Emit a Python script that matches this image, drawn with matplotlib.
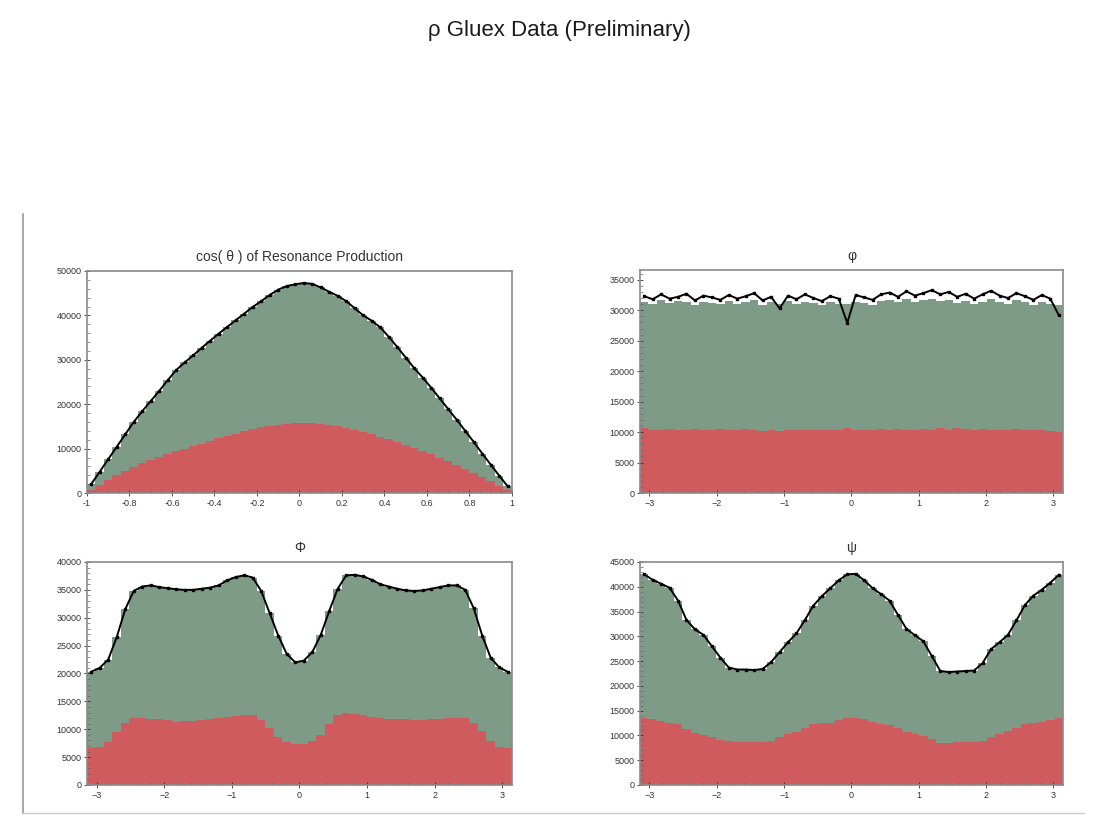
"""Rho Gluex preliminary angular distributions, four histogram panels."""
import numpy as np
import matplotlib
matplotlib.use("Agg")
import matplotlib.pyplot as plt
from matplotlib.lines import Line2D

plt.rcParams["font.family"] = ["Liberation Sans", "DejaVu Sans"]

GREEN = "#7e9b88"
RED = "#d05b5e"

# cos(theta): 50 bins on [-1, 1]
cos_total = [2000, 4800, 7600, 10400, 13200, 16000, 18400, 20700, 23000, 25400,
             27700, 29400, 31000, 32700, 34300, 35900, 37400, 38900, 40400, 41900,
             43200, 44600, 45800, 46600, 47000, 47300, 47100, 46300, 45300, 44400,
             43200, 41600, 40000, 38800, 37300, 35200, 32900, 30500, 28100, 26000,
             23700, 21300, 18900, 16500, 14000, 11500, 8900, 6400, 3900, 1500]
cos_red = [600, 1700, 2900, 4000, 5000, 5900, 6700, 7400, 8100, 8800,
           9400, 9900, 10500, 11100, 11700, 12300, 12900, 13400, 13900, 14400,
           14800, 15100, 15400, 15600, 15700, 15800, 15800, 15600, 15300, 15000,
           14700, 14300, 13800, 13300, 12700, 12100, 11500, 10800, 10100, 9400,
           8700, 7900, 7100, 6300, 5400, 4500, 3600, 2600, 1600, 600]

# phi: 50 bins on [-pi, pi]
phi_data = [32300, 31800, 32600, 31900, 32200, 32700, 31600, 32400, 32100, 31700,
            32500, 31900, 32300, 32800, 31600, 32200, 30300, 32400, 31800, 32600,
            32000, 31500, 32300, 31900, 27900, 32500, 32100, 31700, 32600, 32900,
            32200, 33100, 32400, 32800, 33300, 32600, 33000, 32200, 32700, 31900,
            32600, 33200, 32400, 32000, 32800, 32300, 31700, 32500, 31900, 29200]
phi_total = [31400, 31100, 31600, 31200, 31500, 31300, 30900, 31400, 31200, 31000,
             31500, 31100, 31300, 31700, 30900, 31300, 31000, 31500, 31100, 31400,
             31200, 30800, 31300, 31100, 31000, 31400, 31200, 30900, 31500, 31700,
             31300, 31800, 31400, 31600, 31900, 31500, 31700, 31200, 31500, 31000,
             31400, 31800, 31300, 31100, 31600, 31300, 30900, 31400, 31100, 30800]
phi_red = [10600, 10300, 10400, 10500, 10300, 10400, 10500, 10400, 10300, 10500,
           10400, 10300, 10500, 10400, 10200, 10300, 10100, 10300, 10400, 10300,
           10400, 10300, 10400, 10300, 10700, 10400, 10300, 10400, 10500, 10400,
           10500, 10400, 10300, 10500, 10400, 10600, 10400, 10700, 10500, 10400,
           10500, 10400, 10300, 10400, 10500, 10300, 10400, 10300, 10200, 10000]

# Phi: 50 bins on [-pi, pi]
Phi_total = [20300, 21000, 22500, 26500, 31500, 34800, 35600, 35800, 35500, 35300,
             35100, 35000, 35000, 35200, 35400, 35800, 36700, 37300, 37600, 37200,
             34800, 30800, 26800, 23500, 22000, 22300, 23800, 26900, 31200, 35200,
             37600, 37700, 37400, 36800, 36000, 35600, 35200, 34900, 34800, 34900,
             35200, 35500, 35800, 35800, 35000, 31700, 26800, 22800, 21100, 20300]
Phi_red = [6600, 6900, 7800, 9500, 11200, 12000, 12000, 11900, 11800, 11600,
           11300, 11400, 11500, 11700, 11800, 12000, 12200, 12400, 12600, 12500,
           11700, 10200, 8600, 7700, 7300, 7400, 7900, 9000, 11000, 12500,
           12900, 12800, 12500, 12200, 12000, 11900, 11800, 11800, 11700, 11700,
           11800, 11900, 12000, 12100, 12000, 11200, 9600, 7900, 6900, 6600]

# psi: 50 bins on [-pi, pi]
psi_total = [42500, 41400, 40600, 39800, 37200, 33300, 31400, 30300, 28000, 25700,
             23700, 23300, 23300, 23200, 23400, 24800, 26800, 28800, 30600, 33300,
             36200, 38100, 39700, 41300, 42500, 42600, 41300, 39700, 38500, 37200,
             34300, 31500, 30200, 29000, 26000, 23000, 22800, 22900, 23000, 23100,
             24600, 27400, 28800, 30300, 33200, 36300, 38200, 39400, 40800, 42400]
psi_red = [13500, 13300, 12900, 12600, 12300, 11300, 10400, 10100, 9600, 9100,
           8800, 8700, 8700, 8600, 8700, 8900, 9700, 10300, 10700, 11400,
           12300, 12500, 12600, 13200, 13500, 13500, 13400, 12700, 12400, 12200,
           11500, 10600, 10300, 9900, 9200, 8400, 8500, 8600, 8600, 8700,
           8900, 9700, 10300, 10800, 11500, 12400, 12600, 12800, 13200, 13500]

cos_ticks = [-1, -0.8, -0.6, -0.4, -0.2, 0, 0.2, 0.4, 0.6, 0.8, 1]
cos_ticklabels = ["-1", "-0.8", "-0.6", "-0.4", "-0.2", "0", "0.2", "0.4", "0.6", "0.8", "1"]
ang_ticks = [-3, -2, -1, 0, 1, 2, 3]

PANELS = [
    dict(title="cos( θ ) of Resonance Production", lo=-1, hi=1, total=cos_total,
         red=cos_red, data=cos_total, ymax=50000, ystep=10000,
         xticks=cos_ticks, xlabels=cos_ticklabels,
         rect=[0.0782, 0.3958, 0.3822, 0.2721]),
    dict(title="φ", lo=-np.pi, hi=np.pi, total=phi_total, red=phi_red,
         data=phi_data, ymax=36600, ystep=5000, xticks=ang_ticks, xlabels=None,
         rect=[0.5755, 0.3958, 0.3804, 0.2733]),
    dict(title="Φ", lo=-np.pi, hi=np.pi, total=Phi_total, red=Phi_red,
         data=Phi_total, ymax=40000, ystep=5000, xticks=ang_ticks, xlabels=None,
         rect=[0.0782, 0.0380, 0.3822, 0.2733]),
    dict(title="ψ", lo=-np.pi, hi=np.pi, total=psi_total, red=psi_red,
         data=psi_total, ymax=45000, ystep=5000, xticks=ang_ticks, xlabels=None,
         rect=[0.5755, 0.0380, 0.3804, 0.2733]),
]


def draw_panel(fig, p):
    ax = fig.add_axes(p["rect"])
    n = len(p["total"])
    edges = np.linspace(p["lo"], p["hi"], n + 1)
    centers = 0.5 * (edges[:-1] + edges[1:])
    ax.stairs(p["total"], edges, fill=True, color=GREEN, lw=0)
    ax.stairs(p["red"], edges, fill=True, color=RED, lw=0)
    ax.plot(centers, p["data"], color="black", lw=1.4, marker="s", ms=1.6,
            mec="black", mfc="black")

    ax.set_xlim(p["lo"], p["hi"])
    ax.set_ylim(0, p["ymax"])
    ax.set_xticks(p["xticks"])
    if p["xlabels"] is not None:
        ax.set_xticklabels(p["xlabels"])
    ax.set_yticks(np.arange(0, p["ymax"] + 1, p["ystep"]))
    ax.minorticks_on()
    ax.tick_params(which="major", direction="inout", length=5, width=0.6,
                   labelsize=6.5, colors="#333333", pad=1.5)
    ax.tick_params(which="minor", direction="in", length=2.5, width=0.5,
                   colors="#666666")
    for s in ax.spines.values():
        s.set_color("#8a8a8a")
        s.set_linewidth(1.2)
    ax.set_title(p["title"], fontsize=10, color="#333333", pad=7)
    return ax


def main():
    fig = plt.figure(figsize=(11.12, 8.16), dpi=100)
    fig.text(0.503, 0.963, "ρ Gluex Data (Preliminary)", ha="center", va="center",
             fontsize=16, color="#1a1a1a")
    for p in PANELS:
        draw_panel(fig, p)

    # outer frame of the embedded canvas
    fig.add_artist(Line2D([0.0205, 0.0205], [0.004, 0.738], color="#9a9a9a", lw=1.2))
    fig.add_artist(Line2D([0.0205, 0.975], [0.004, 0.004], color="#cccccc", lw=1.0))

    fig.savefig("out.png", dpi=100)


if __name__ == "__main__":
    main()
